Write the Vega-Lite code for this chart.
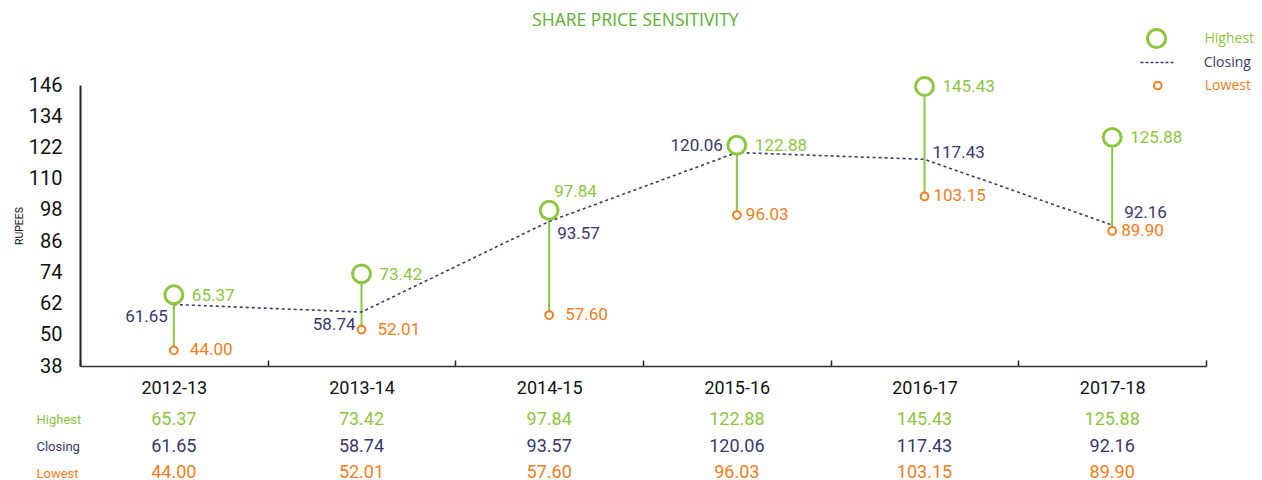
{
  "$schema": "https://vega.github.io/schema/vega-lite/v6.json",
  "padding": {"left": 14, "top": 12, "right": 0, "bottom": 0},
  "background": "white",
  "title": {"text": "SHARE PRICE SENSITIVITY", "font": "Open Sans", "fontSize": 17.5, "fontWeight": "normal", "color": "#5cb033", "anchor": "middle", "offset": -2, "dx": 1},
  "datasets": {
    "prices": [
      {"year": "2012-13", "Highest": 65.37, "Closing": 61.65, "Lowest": 44.00},
      {"year": "2013-14", "Highest": 73.42, "Closing": 58.74, "Lowest": 52.01},
      {"year": "2014-15", "Highest": 97.84, "Closing": 93.57, "Lowest": 57.60},
      {"year": "2015-16", "Highest": 122.88, "Closing": 120.06, "Lowest": 96.03},
      {"year": "2016-17", "Highest": 145.43, "Closing": 117.43, "Lowest": 103.15},
      {"year": "2017-18", "Highest": 125.88, "Closing": 92.16, "Lowest": 89.90}
    ]
  },
  "bounds": "flush",
  "spacing": 46,
  "resolve": {"scale": {"color": "independent", "x": "independent", "y": "independent"}, "legend": {"color": "independent"}},
  "vconcat": [
    {
      "width": 1126,
      "height": 281,
      "data": {"name": "prices"},
      "resolve": {"scale": {"stroke": "independent"}, "legend": {"stroke": "independent"}},
      "encoding": {
        "x": {
          "field": "year", "type": "nominal",
          "scale": {"type": "band", "paddingInner": 0, "paddingOuter": 0},
          "axis": {"title": null, "labelAngle": 0, "tickBand": "extent", "tickSize": -6, "tickColor": "#222", "tickWidth": 1.5, "domainColor": "#333", "domainWidth": 1.5, "labelFont": "Roboto", "labelFontSize": 18, "labelColor": "#111", "labelPadding": 19}
        }
      },
      "layer": [
        {
          "mark": {"type": "rule", "color": "#8cc63f", "strokeWidth": 2},
          "encoding": {
            "y": {
              "field": "Lowest", "type": "quantitative",
              "scale": {"domain": [38, 146], "nice": false, "zero": false},
              "axis": {"title": "RUPEES", "values": [38, 50, 62, 74, 86, 98, 110, 122, 134, 146], "tickCount": 12, "labelOverlap": false, "grid": false, "ticks": false, "domainColor": "#222", "domainWidth": 2, "labelFont": "Roboto", "labelFontSize": 20, "labelColor": "#111", "labelPadding": 18, "titleFont": "Roboto", "titleFontSize": 10.5, "titleFontWeight": "normal", "titleColor": "#111", "titlePadding": 4}
            },
            "y2": {"field": "Highest"}
          }
        },
        {
          "mark": {"type": "line", "strokeDash": [3, 3], "strokeWidth": 1.6},
          "encoding": {
            "y": {"field": "Closing", "type": "quantitative"},
            "stroke": {
              "datum": "Closing", "type": "nominal",
              "scale": {"domain": ["Closing"], "range": ["#3b376f"]},
              "legend": {"title": null, "orient": "none", "legendX": 1059.5, "legendY": -40, "padding": 0, "symbolType": "stroke", "symbolSize": 1089, "symbolStrokeWidth": 1.6, "symbolDash": [3, 2], "labelOffset": 29.2, "labelFont": "Open Sans", "labelFontSize": 14, "labelColor": "#3b376f"}
            }
          }
        },
        {
          "mark": {"type": "point", "filled": true, "fill": "white", "strokeWidth": 3, "size": 320, "opacity": 1},
          "encoding": {
            "y": {"field": "Highest", "type": "quantitative"},
            "stroke": {
              "datum": "Highest", "type": "nominal",
              "scale": {"domain": ["Highest"], "range": ["#8cc63f"]},
              "legend": {"title": null, "orient": "none", "legendX": 1065.6, "legendY": -57.5, "padding": 0, "symbolType": "circle", "symbolSize": 330, "symbolStrokeWidth": 3, "symbolFillColor": "white", "labelOffset": 36.9, "labelFont": "Open Sans", "labelFontSize": 14, "labelColor": "#8cc63f"}
            }
          }
        },
        {
          "mark": {"type": "point", "filled": true, "fill": "white", "strokeWidth": 2, "size": 60, "opacity": 1},
          "encoding": {
            "y": {"field": "Lowest", "type": "quantitative"},
            "stroke": {
              "datum": "Lowest", "type": "nominal",
              "scale": {"domain": ["Lowest"], "range": ["#f07d21"]},
              "legend": {"title": null, "orient": "none", "legendX": 1070.8, "legendY": -6.5, "padding": 0, "symbolType": "circle", "symbolSize": 60, "symbolStrokeWidth": 2, "symbolFillColor": "white", "labelOffset": 40, "labelFont": "Open Sans", "labelFontSize": 14, "labelColor": "#f07d21"}
            }
          }
        },
        {
          "transform": [{"filter": "datum.year !== '2014-15'"}],
          "mark": {"type": "text", "align": "left", "baseline": "middle", "dx": 18, "dy": 1, "font": "Roboto", "fontSize": 17, "color": "#8cc63f"},
          "encoding": {"y": {"field": "Highest", "type": "quantitative"}, "text": {"field": "Highest", "type": "quantitative", "format": ".2f"}}
        },
        {
          "transform": [{"filter": "datum.year === '2014-15'"}],
          "mark": {"type": "text", "align": "left", "baseline": "middle", "dx": 5, "dy": -18, "font": "Roboto", "fontSize": 17, "color": "#8cc63f"},
          "encoding": {"y": {"field": "Highest", "type": "quantitative"}, "text": {"field": "Highest", "type": "quantitative", "format": ".2f"}}
        },
        {
          "transform": [{"filter": {"field": "year", "oneOf": ["2012-13", "2013-14"]}}],
          "mark": {"type": "text", "align": "right", "baseline": "middle", "dx": -6, "dy": 12.5, "font": "Roboto", "fontSize": 17, "color": "#3b376f"},
          "encoding": {"y": {"field": "Closing", "type": "quantitative"}, "text": {"field": "Closing", "type": "quantitative", "format": ".2f"}}
        },
        {
          "transform": [{"filter": {"field": "year", "oneOf": ["2014-15"]}}],
          "mark": {"type": "text", "align": "left", "baseline": "middle", "dx": 8, "dy": 13, "font": "Roboto", "fontSize": 17, "color": "#3b376f"},
          "encoding": {"y": {"field": "Closing", "type": "quantitative"}, "text": {"field": "Closing", "type": "quantitative", "format": ".2f"}}
        },
        {
          "transform": [{"filter": {"field": "year", "oneOf": ["2015-16"]}}],
          "mark": {"type": "text", "align": "right", "baseline": "middle", "dx": -14, "dy": -6.5, "font": "Roboto", "fontSize": 17, "color": "#3b376f"},
          "encoding": {"y": {"field": "Closing", "type": "quantitative"}, "text": {"field": "Closing", "type": "quantitative", "format": ".2f"}}
        },
        {
          "transform": [{"filter": {"field": "year", "oneOf": ["2016-17"]}}],
          "mark": {"type": "text", "align": "left", "baseline": "middle", "dx": 8, "dy": -6, "font": "Roboto", "fontSize": 17, "color": "#3b376f"},
          "encoding": {"y": {"field": "Closing", "type": "quantitative"}, "text": {"field": "Closing", "type": "quantitative", "format": ".2f"}}
        },
        {
          "transform": [{"filter": {"field": "year", "oneOf": ["2017-18"]}}],
          "mark": {"type": "text", "align": "left", "baseline": "middle", "dx": 12, "dy": -12, "font": "Roboto", "fontSize": 17, "color": "#3b376f"},
          "encoding": {"y": {"field": "Closing", "type": "quantitative"}, "text": {"field": "Closing", "type": "quantitative", "format": ".2f"}}
        },
        {
          "transform": [{"filter": {"field": "year", "oneOf": ["2012-13", "2013-14", "2014-15"]}}],
          "mark": {"type": "text", "align": "left", "baseline": "middle", "dx": 16, "dy": 0, "font": "Roboto", "fontSize": 17, "color": "#f07d21"},
          "encoding": {"y": {"field": "Lowest", "type": "quantitative"}, "text": {"field": "Lowest", "type": "quantitative", "format": ".2f"}}
        },
        {
          "transform": [{"filter": {"field": "year", "oneOf": ["2015-16", "2016-17", "2017-18"]}}],
          "mark": {"type": "text", "align": "left", "baseline": "middle", "dx": 9, "dy": 0, "font": "Roboto", "fontSize": 17, "color": "#f07d21"},
          "encoding": {"y": {"field": "Lowest", "type": "quantitative"}, "text": {"field": "Lowest", "type": "quantitative", "format": ".2f"}}
        }
      ]
    },
    {
      "width": 1126,
      "height": 69,
      "data": {"name": "prices"},
      "transform": [{"fold": ["Highest", "Closing", "Lowest"], "as": ["series", "value"]}],
      "mark": {"type": "text", "font": "Roboto", "fontSize": 18, "baseline": "middle"},
      "encoding": {
        "x": {"field": "year", "type": "nominal", "scale": {"type": "band", "paddingInner": 0, "paddingOuter": 0}, "axis": null},
        "y": {
          "field": "series", "type": "nominal",
          "scale": {"type": "point", "domain": ["Highest", "Closing", "Lowest"], "padding": 0.3},
          "axis": {
            "title": null, "domain": false, "ticks": false, "labelAlign": "left", "labelPadding": 44,
            "labelFont": "Roboto", "labelFontSize": 13,
            "labelColor": {"condition": [{"test": "datum.value === 'Highest'", "value": "#8cc63f"}, {"test": "datum.value === 'Closing'", "value": "#3b376f"}], "value": "#f07d21"}
          }
        },
        "text": {"field": "value", "type": "quantitative", "format": ".2f"},
        "color": {"field": "series", "type": "nominal", "scale": {"domain": ["Highest", "Closing", "Lowest"], "range": ["#8cc63f", "#3b376f", "#f07d21"]}, "legend": null}
      }
    }
  ],
  "config": {"view": {"stroke": null}, "axisY": {"labelOverlap": false}}
}
